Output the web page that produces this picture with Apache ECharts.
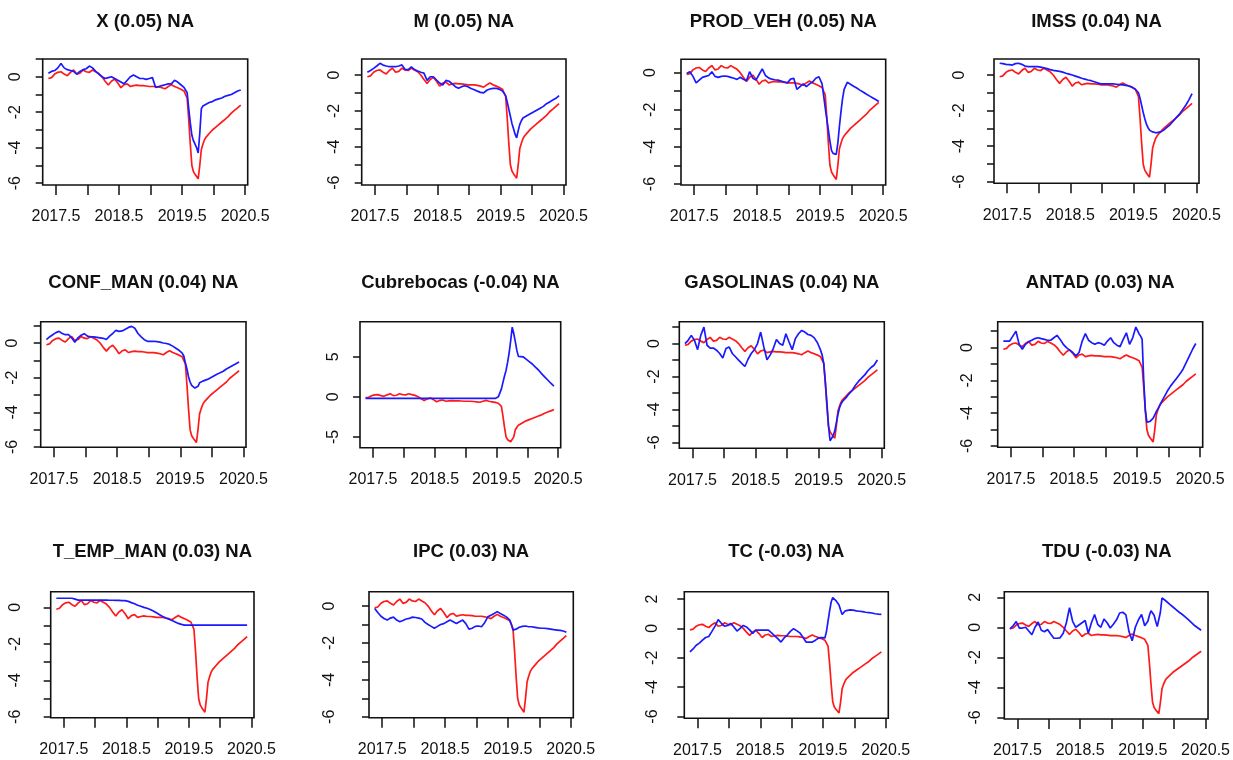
<!DOCTYPE html>
<html>
<head>
<meta charset="utf-8">
<script src="https://cdn.jsdelivr.net/npm/echarts@6/dist/echarts.min.js"></script>
<style>
html,body{margin:0;padding:0;background:#fff;}
#chart{width:1233px;height:760px;}
</style>
</head>
<body>
<div id="chart"></div>
<script>
// ---------- DATA ----------
const xYears = [
  2017.38, 2017.43, 2017.48, 2017.53, 2017.58, 2017.63, 2017.68, 2017.73, 2017.78, 2017.83,
  2017.88, 2017.93, 2017.98, 2018.03, 2018.08, 2018.13, 2018.18, 2018.23, 2018.28, 2018.33,
  2018.38, 2018.43, 2018.48, 2018.53, 2018.58, 2018.63, 2018.68, 2018.73, 2018.78, 2018.83,
  2018.88, 2018.93, 2018.98, 2019.03, 2019.08, 2019.13, 2019.18, 2019.23, 2019.28, 2019.33,
  2019.38, 2019.43, 2019.48, 2019.53,
  2019.555, 2019.58, 2019.605, 2019.63, 2019.655, 2019.68, 2019.705, 2019.73, 2019.755, 2019.78,
  2019.805, 2019.83, 2019.855, 2019.88,
  2019.93, 2019.98, 2020.03, 2020.08, 2020.13, 2020.18, 2020.23, 2020.28, 2020.33, 2020.38, 2020.43
];

const titles = [
  "X (0.05) NA", "M (0.05) NA", "PROD_VEH (0.05) NA", "IMSS (0.04) NA",
  "CONF_MAN (0.04) NA", "Cubrebocas (-0.04) NA", "GASOLINAS (0.04) NA", "ANTAD (0.03) NA",
  "T_EMP_MAN (0.03) NA", "IPC (0.03) NA", "TC (-0.03) NA", "TDU (-0.03) NA"
];

// red series (same in every panel)
const redTarget = [
  -0.1, -0.05, 0.15, 0.25, 0.28, 0.15, 0.06, 0.25, 0.38, 0.15,
  0.2, 0.38, 0.28, 0.25, 0.38, 0.28, 0.18, 0.0, -0.25, -0.47,
  -0.25, -0.13, -0.35, -0.62, -0.45, -0.4, -0.55, -0.5, -0.47, -0.5,
  -0.5, -0.52, -0.55, -0.55, -0.55, -0.58, -0.62, -0.68, -0.55, -0.45,
  -0.55, -0.62, -0.7, -0.8,
  -1.0, -1.2, -2.4, -3.8, -5.0, -5.35, -5.5, -5.6, -5.75, -5.0, -4.1, -3.8, -3.55, -3.4,
  -3.2, -3.0, -2.85, -2.7, -2.55, -2.4, -2.25, -2.05, -1.9, -1.75, -1.6
];

const blueX = [
  0.2, 0.3, 0.35, 0.5, 0.75, 0.5, 0.4, 0.35, 0.3, 0.15,
  0.3, 0.4, 0.45, 0.6, 0.5, 0.3, 0.15, 0.0, -0.1, -0.05,
  0.0, -0.1, -0.2, -0.3, -0.4, -0.2, 0.0, 0.1, 0.0, -0.1,
  -0.1, -0.15, -0.1, -0.05, -0.6, -0.55, -0.5, -0.45, -0.4, -0.4,
  -0.2, -0.3, -0.45, -0.6,
  -0.7, -0.9, -1.8, -2.6, -3.3, -3.6, -3.8, -4.0, -4.3, -3.2, -1.8, -1.65, -1.6, -1.55,
  -1.45, -1.4, -1.3, -1.25, -1.2, -1.1, -1.05, -1.0, -0.9, -0.8, -0.75
];

const blueM = [
  0.15, 0.25, 0.37, 0.5, 0.65, 0.55, 0.5, 0.46, 0.46, 0.46,
  0.5, 0.56, 0.3, 0.3, 0.45, 0.3, 0.22, 0.15, 0.1, -0.3,
  -0.1, -0.1, -0.28, -0.45, -0.56, -0.3, -0.35, -0.5, -0.65, -0.74,
  -0.65, -0.6, -0.65, -0.75, -0.82, -0.9, -0.97, -1.0, -0.85, -0.78,
  -0.75, -0.74, -0.8, -0.9,
  -1.0, -1.15, -1.5, -1.9, -2.3, -2.7, -3.0, -3.3, -3.5, -3.1, -2.75, -2.55, -2.4, -2.35,
  -2.25, -2.15, -2.05, -1.95, -1.85, -1.75, -1.6, -1.5, -1.4, -1.3, -1.15
];

const blueProdVeh = [
  -0.05, 0.05, -0.2, -0.55, -0.4, -0.25, -0.2, -0.15, 0.05, -0.2,
  -0.25, -0.2, -0.18, -0.2, -0.25, -0.3, -0.36, -0.25, -0.35, -0.43,
  0.05, -0.3, -0.4, -0.1, 0.2, -0.15, -0.28, -0.35, -0.38, -0.4,
  -0.45, -0.5, -0.55, -0.35, -0.3, -0.9, -0.75, -0.6, -0.75, -0.6,
  -0.5, -0.3, -0.22, -0.6,
  -1.25, -1.9, -2.5, -3.1, -3.7, -4.2, -4.35, -4.4, -4.4, -3.8, -2.9, -2.1, -1.4, -0.9,
  -0.52, -0.62, -0.73, -0.83, -0.94, -1.04, -1.15, -1.25, -1.35, -1.45, -1.55
];

const blueIMSS = [
  0.66, 0.64, 0.6, 0.58, 0.56, 0.64, 0.66, 0.6, 0.5, 0.47,
  0.47, 0.47, 0.47, 0.44, 0.4, 0.36, 0.3, 0.26, 0.23, 0.2,
  0.16, 0.1, 0.05, 0.0, -0.06, -0.12, -0.18, -0.23, -0.28, -0.32,
  -0.38, -0.44, -0.5, -0.5, -0.5, -0.5, -0.5, -0.52, -0.54, -0.56,
  -0.58, -0.62, -0.68, -0.8,
  -0.9, -1.0, -1.3, -1.7, -2.1, -2.45, -2.75, -2.95, -3.1, -3.15, -3.2, -3.22, -3.25, -3.25,
  -3.2, -3.1, -2.95, -2.8, -2.6, -2.4, -2.2, -1.95, -1.7, -1.4, -1.05
];

const blueConfMan = [
  0.2, 0.35, 0.48, 0.6, 0.67, 0.55, 0.48, 0.48, 0.3, 0.05,
  0.3, 0.45, 0.54, 0.4, 0.35, 0.35, 0.33, 0.3, 0.27, 0.2,
  0.4, 0.55, 0.73, 0.67, 0.7, 0.8, 0.9, 0.96, 0.85, 0.55,
  0.35, 0.19, 0.1, 0.1, 0.1, 0.08, 0.05, 0.0, -0.03, -0.08,
  -0.18, -0.3, -0.42, -0.58,
  -0.75, -1.15, -1.5, -1.95, -2.25, -2.45, -2.55, -2.6, -2.65, -2.5, -2.3, -2.25, -2.2, -2.15,
  -2.1, -2.0, -1.9, -1.8, -1.72, -1.63, -1.5, -1.4, -1.3, -1.2, -1.1
];

const blueCubrebocas = [
  -0.2, -0.2, -0.2, -0.2, -0.2, -0.2, -0.2, -0.2, -0.2, -0.2,
  -0.2, -0.2, -0.2, -0.2, -0.2, -0.2, -0.2, -0.2, -0.2, -0.2,
  -0.2, -0.2, -0.2, -0.2, -0.2, -0.2, -0.2, -0.2, -0.2, -0.2,
  -0.2, -0.2, -0.2, -0.2, -0.2, -0.2, -0.2, -0.2, -0.2, -0.2,
  -0.2, -0.2, -0.2, 0.0,
  0.5, 1.0, 1.8, 2.6, 3.3, 4.3, 5.5, 7.0, 8.7, 7.9, 6.9, 5.8, 5.05, 5.0,
  5.0, 4.7, 4.4, 4.1, 3.7, 3.35, 2.9, 2.5, 2.1, 1.7, 1.35
];

const blueGasolinas = [
  0.0, 0.2, 0.5, 0.2, -0.37, 0.5, 1.0, -0.1, -0.27, -0.27,
  -0.4, -0.6, -0.88, -0.3, -0.2, -0.6, -0.8, -1.0, -1.2, -1.39,
  -0.95, -0.6, -0.37, 0.0, 0.7, -0.2, -0.98, -0.7, -0.3, 0.25,
  0.0, -0.1, 0.6, 0.1, -0.37, 0.3, 0.6, 0.8, 0.7, 0.55,
  0.5, 0.35, 0.05, -0.4,
  -0.7, -1.2, -2.3, -3.6, -5.0, -5.9, -6.0, -5.6, -5.3, -4.8, -4.3, -3.9, -3.65, -3.5,
  -3.3, -3.05, -2.85, -2.55, -2.3, -2.1, -1.9, -1.65, -1.45, -1.3, -1.0
];

const blueANTAD = [
  0.4, 0.4, 0.4, 0.7, 1.0, 0.2, -0.1, 0.2, 0.35, 0.45,
  0.55, 0.6, 0.55, 0.5, 0.45, 0.45, 0.6, 0.75, 0.5, 0.2,
  0.0, -0.15, -0.3, -0.5, -0.3, 0.4, 0.85, 0.45, 0.3, 0.2,
  0.3, 0.25, 0.14, 0.4, 0.6, 0.3, 0.15, 0.06, 0.5, 0.9,
  0.2, 0.6, 1.25, 0.85,
  0.7, 0.5, -2.0, -3.8, -4.55, -4.55, -4.5, -4.45, -4.3, -4.1, -3.9, -3.74, -3.55, -3.35,
  -3.0, -2.65, -2.35, -2.1, -1.85, -1.6, -1.3, -0.9, -0.5, -0.1, 0.25
];

const blueTEmpMan = [
  0.5, 0.5, 0.5, 0.5, 0.5, 0.5, 0.45, 0.4, 0.4, 0.4,
  0.4, 0.4, 0.4, 0.4, 0.4, 0.4, 0.4, 0.39, 0.39, 0.38,
  0.38, 0.37, 0.37, 0.33, 0.26, 0.2, 0.12, 0.06, 0.0, -0.05,
  -0.12, -0.2, -0.3, -0.4, -0.5, -0.58, -0.65, -0.72, -0.8, -0.88,
  -0.93, -0.97, -0.97, -0.97,
  -0.97, -0.97, -0.97, -0.97, -0.97, -0.97, -0.97, -0.97, -0.97, -0.97, -0.97, -0.97, -0.97, -0.97,
  -0.97, -0.97, -0.97, -0.97, -0.97, -0.97, -0.97, -0.97, -0.97, -0.97, -0.97
];

const blueIPC = [
  -0.13, -0.35, -0.55, -0.67, -0.76, -0.65, -0.6, -0.76, -0.85, -0.78,
  -0.7, -0.67, -0.6, -0.62, -0.65, -0.7, -0.88, -1.0, -1.1, -1.2,
  -1.1, -1.0, -0.95, -0.85, -0.76, -0.85, -0.94, -0.85, -0.76, -0.95,
  -1.25, -1.2, -1.1, -1.08, -1.12, -0.9, -0.58, -0.49, -0.4, -0.3,
  -0.4, -0.49, -0.6, -0.76,
  -1.0, -1.3, -1.28, -1.25, -1.2, -1.15, -1.12, -1.1, -1.08, -1.08, -1.08, -1.12, -1.15, -1.12,
  -1.15, -1.18, -1.2, -1.2, -1.22, -1.25, -1.28, -1.3, -1.32, -1.35, -1.42
];

const blueTC = [
  -1.6, -1.4, -1.15, -1.0, -0.8, -0.62, -0.55, -0.2, 0.16, 0.6,
  0.35, 0.15, 0.2, 0.34, 0.1, -0.18, 0.0, 0.2, 0.1, -0.1,
  -0.34, -0.11, -0.11, -0.11, -0.11, -0.11, -0.3, -0.5, -0.7, -0.93,
  -0.65, -0.45, -0.2, -0.02, -0.15, -0.3, -0.6, -0.93, -0.93, -0.93,
  -0.8, -0.65, -0.63, -0.65,
  -0.2, 0.5, 1.2, 1.8, 2.1, 2.0, 1.9, 1.85, 1.6, 1.25, 0.95, 1.05, 1.2, 1.29,
  1.26, 1.24, 1.2, 1.17, 1.14, 1.1, 1.08, 1.05, 1.0, 0.97, 0.95
];

const blueTDU = [
  -0.1, 0.1, 0.38, -0.05, -0.05, 0.0, -0.25, -0.5, 0.0, 0.35,
  -0.2, -0.3, -0.15, -0.45, -0.73, -0.73, -0.7, -0.4, 0.3, 1.3,
  0.4, 0.0, 0.15, 0.3, 0.45, -0.4, 0.3, 0.85, 0.2, 0.0,
  0.55, 0.3, -0.05, 0.2, 0.5, 0.95, 1.0, 0.82, -0.3, -0.9,
  0.0, 0.5, 0.85, 0.1,
  0.0, 0.4, 0.8, 1.1, 1.2, 0.8, 0.4, 0.05, -0.05, 1.0, 1.95, 1.9, 1.8, 1.7,
  1.52, 1.35, 1.18, 1.0, 0.85, 0.68, 0.5, 0.3, 0.1, -0.05, -0.2
];

const blueSeries = [blueX, blueM, blueProdVeh, blueIMSS, blueConfMan, blueCubrebocas,
  blueGasolinas, blueANTAD, blueTEmpMan, blueIPC, blueTC, blueTDU];

// tick values / tick labels
const xTickValues = [2017.5, 2018.0, 2018.5, 2019.0, 2019.5, 2020.0, 2020.5];
const xLabelValues = [2017.5, 2018.5, 2019.5, 2020.5];
const yTicksUnit = [-6, -5, -4, -3, -2, -1, 0, 1, 2];
const yLabelsEven = [-6, -4, -2, 0, 2];
const yTicksTwo = [-6, -4, -2, 0, 2];
const yTicksFive = [-5, 0, 5];

// ---------- LAYOUT (pixel boxes, axis extents) ----------
const X_MIN = 2017.29, X_MAX = 2020.54;
const layout = [
  {box: [42.7, 59, 205, 126],     y: [-6.1, 1.0],    tk: 'unit', lab: 27.7},
  {box: [361.7, 59, 204.3, 126],  y: [-6.13, 0.89],  tk: 'unit', lab: 27.7},
  {box: [681, 59.3, 204.7, 125.7],y: [-6.05, 0.72],  tk: 'unit', lab: 31.7},
  {box: [994, 59, 205, 124.3],    y: [-6.09, 0.9],   tk: 'unit', lab: 35.7},
  {box: [40.7, 321.7, 205.3, 125.6], y: [-6.02, 1.23], tk: 'unit', lab: 29},
  {box: [360, 321.7, 200.7, 126], y: [-6.35, 9.38],  tk: 'five', lab: 27.3},
  {box: [679.3, 321.7, 205, 126.6], y: [-6.36, 1.33], tk: 'unit', lab: 26},
  {box: [997.7, 321.7, 205, 125.6], y: [-6.08, 1.58], tk: 'unit', lab: 31},
  {box: [50.7, 591.7, 203.3, 126], y: [-6.05, 0.86], tk: 'unit', lab: 35.7},
  {box: [369, 591.7, 204.3, 126], y: [-6.05, 0.78], tk: 'unit', lab: 40},
  {box: [684.3, 591.7, 204, 126.6], y: [-6.12, 2.5], tk: 'two', lab: 32.7},
  {box: [1004.3, 591.7, 205, 127.3], y: [-6.11, 2.37], tk: 'two', lab: 29.3}
];
const titleCenterY = [22, 22, 22, 22, 283, 283, 283, 283, 552, 552, 552, 552];

const FONT = "'Liberation Sans', Arial, sans-serif";
const INK = '#111';

const grids = [], xAxes = [], yAxes = [], series = [], titleArr = [];
layout.forEach((p, i) => {
  const [l, t, w, h] = p.box;
  const [ymin, ymax] = p.y;
  let ticks, labels;
  if (p.tk === 'unit') { ticks = yTicksUnit; labels = yLabelsEven; }
  else if (p.tk === 'two') { ticks = yTicksTwo; labels = yTicksTwo; }
  else { ticks = yTicksFive; labels = yTicksFive; }
  ticks = ticks.filter(v => v >= ymin && v <= ymax);
  labels = labels.filter(v => v >= ymin && v <= ymax);

  grids.push({left: l, top: t, width: w, height: h, show: true,
    borderColor: INK, borderWidth: 1.6, backgroundColor: 'transparent'});

  xAxes.push({type: 'value', gridIndex: i, min: X_MIN, max: X_MAX, position: 'bottom',
    axisLine: {show: false, onZero: false}, splitLine: {show: false},
    axisTick: {show: true, length: 10, lineStyle: {color: INK, width: 1.5}, customValues: xTickValues},
    axisLabel: {show: true, customValues: xLabelValues, margin: 24, fontSize: 16,
      fontFamily: FONT, color: INK, formatter: v => Number(v).toFixed(1)}});

  yAxes.push({type: 'value', gridIndex: i, min: ymin, max: ymax, position: 'left',
    axisLine: {show: false, onZero: false}, splitLine: {show: false},
    axisTick: {show: true, length: 7, lineStyle: {color: INK, width: 1.5}, customValues: ticks},
    axisLabel: {show: true, customValues: labels, rotate: 90, margin: p.lab - 9, fontSize: 16,
      fontFamily: FONT, color: INK, formatter: v => String(Math.round(v))}});

  series.push({type: 'line', xAxisIndex: i, yAxisIndex: i, showSymbol: false, symbol: 'none',
    data: xYears.map((x, k) => [x, redTarget[k]]),
    lineStyle: {color: '#ff1a1a', width: 1.7}, silent: true, animation: false});
  series.push({type: 'line', xAxisIndex: i, yAxisIndex: i, showSymbol: false, symbol: 'none',
    data: xYears.map((x, k) => [x, blueSeries[i][k]]),
    lineStyle: {color: '#1a1aff', width: 1.7}, silent: true, animation: false});

  titleArr.push({text: titles[i], left: l + w / 2, top: titleCenterY[i] - 11, textAlign: 'center',
    padding: 0, textStyle: {fontFamily: FONT, fontWeight: 'bold', fontSize: 18.5, color: INK, lineHeight: 22}});
});

const chart = echarts.init(document.getElementById('chart'), null, {renderer: 'canvas', width: 1233, height: 760});
chart.setOption({
  backgroundColor: '#ffffff',
  animation: false,
  title: titleArr,
  grid: grids,
  xAxis: xAxes,
  yAxis: yAxes,
  series: series
});
</script>
</body>
</html>
